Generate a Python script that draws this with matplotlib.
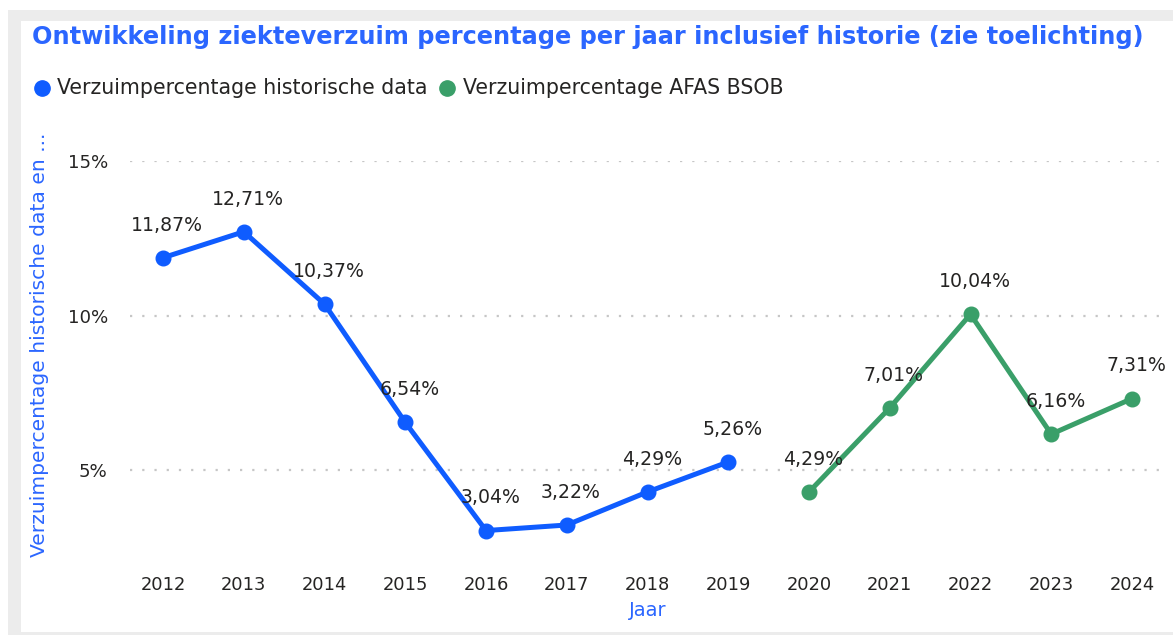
import matplotlib
matplotlib.use("Agg")
import matplotlib.pyplot as plt
from matplotlib.patches import Rectangle
from matplotlib.lines import Line2D

years = ["2012", "2013", "2014", "2015", "2016", "2017", "2018", "2019",
         "2020", "2021", "2022", "2023", "2024"]
hist_years = years[:8]
hist_values = [11.87, 12.71, 10.37, 6.54, 3.04, 3.22, 4.29, 5.26]
afas_years = years[8:]
afas_values = [4.29, 7.01, 10.04, 6.16, 7.31]
y_ticks = [5, 10, 15]

title = "Ontwikkeling ziekteverzuim percentage per jaar inclusief historie (zie toelichting)"
legend_labels = ["Verzuimpercentage historische data", "Verzuimpercentage AFAS BSOB"]
x_title = "Jaar"
y_title = "Verzuimpercentage historische data en ..."

BLUE = "#0f5cff"
GREEN = "#3a9f69"
ACCENT = "#2b66ff"
TEXT = "#252423"

W, H = 1173, 635
fig = plt.figure(figsize=(W / 100, H / 100), dpi=100)
fig.patch.set_facecolor("white")

# grey frame around the visual
fig.patches.append(Rectangle((8 / W, 0), 1 - 8 / W, 1 - 10 / H, transform=fig.transFigure,
                             facecolor="#ececec", edgecolor="none", zorder=-2))
fig.patches.append(Rectangle((21 / W, 3 / H), 1 - 21 / W, 1 - 21 / H - 3 / H,
                             transform=fig.transFigure, facecolor="white",
                             edgecolor="none", zorder=-1))

# axes placement in pixels
x0_px, x1_px = 130, 1165
x_first, step = 163, 80.75
y15, y5 = 161, 470
px_per_pct = (y5 - y15) / 10.0
y_lo, y_hi = 2.4, 15.0
top_px = y15 - (y_hi - 15) * px_per_pct
bot_px = y5 + (5 - y_lo) * px_per_pct
xl = (x0_px - x_first) / step
xr = (x1_px - x_first) / step

ax = fig.add_axes([x0_px / W, 1 - bot_px / H, (x1_px - x0_px) / W, (bot_px - top_px) / H])
ax.set_xlim(xl, xr)
ax.set_ylim(y_lo, y_hi)
ax.set_facecolor("none")
for s in ax.spines.values():
    s.set_visible(False)

pos = {y: i for i, y in enumerate(years)}
hx = [pos[y] for y in hist_years]
ax_ = [pos[y] for y in afas_years]

ax.set_yticks(y_ticks)
ax.set_yticklabels([f"{v}%" for v in y_ticks])
ax.set_xticks(range(len(years)))
ax.set_xticklabels(years)
ax.tick_params(axis="x", length=0, labelsize=12.9, colors=TEXT, pad=18.5)
ax.tick_params(axis="y", length=0, labelsize=13.1, colors=TEXT, pad=16)
ax.grid(axis="y", color="#c6c6c6", linestyle=(0, (1, 4.5)), linewidth=1.6)
ax.grid(axis="x", visible=False)

ax.plot(hx, hist_values, color=BLUE, lw=3.6, marker="o", ms=10.5, zorder=3,
        solid_capstyle="round", solid_joinstyle="round")
ax.plot(ax_, afas_values, color=GREEN, lw=3.6, marker="o", ms=10.5, zorder=3,
        solid_capstyle="round", solid_joinstyle="round")

for xs, vals in ((hx, hist_values), (ax_, afas_values)):
    for x, v in zip(xs, vals):
        ax.annotate(f"{v:.2f}%".replace(".", ","), (x, v), xytext=(3, 23.5),
                    textcoords="offset points", ha="center", va="center",
                    fontsize=13.6, color=TEXT, zorder=4)

fig.text(40 / W, 1 - 345 / H, y_title, rotation=90, ha="center", va="center",
         fontsize=14.6, color=ACCENT)
fig.text(648 / W, 1 - 611 / H, x_title, ha="center", va="center",
         fontsize=14, color=ACCENT)
fig.text(32 / W, 1 - 37 / H, title, ha="left", va="center", fontsize=17.3,
         fontweight="bold", color=ACCENT)

# legend row
fig.lines.append(Line2D([42 / W], [1 - 88 / H], marker="o", ms=11, color=BLUE,
                        transform=fig.transFigure))
fig.text(57 / W, 1 - 88 / H, legend_labels[0], ha="left", va="center",
         fontsize=14.8, color=TEXT)
fig.lines.append(Line2D([447 / W], [1 - 88 / H], marker="o", ms=11, color=GREEN,
                        transform=fig.transFigure))
fig.text(463 / W, 1 - 88 / H, legend_labels[1], ha="left", va="center",
         fontsize=14.8, color=TEXT)

fig.savefig("out.png", dpi=100, facecolor=fig.get_facecolor())
